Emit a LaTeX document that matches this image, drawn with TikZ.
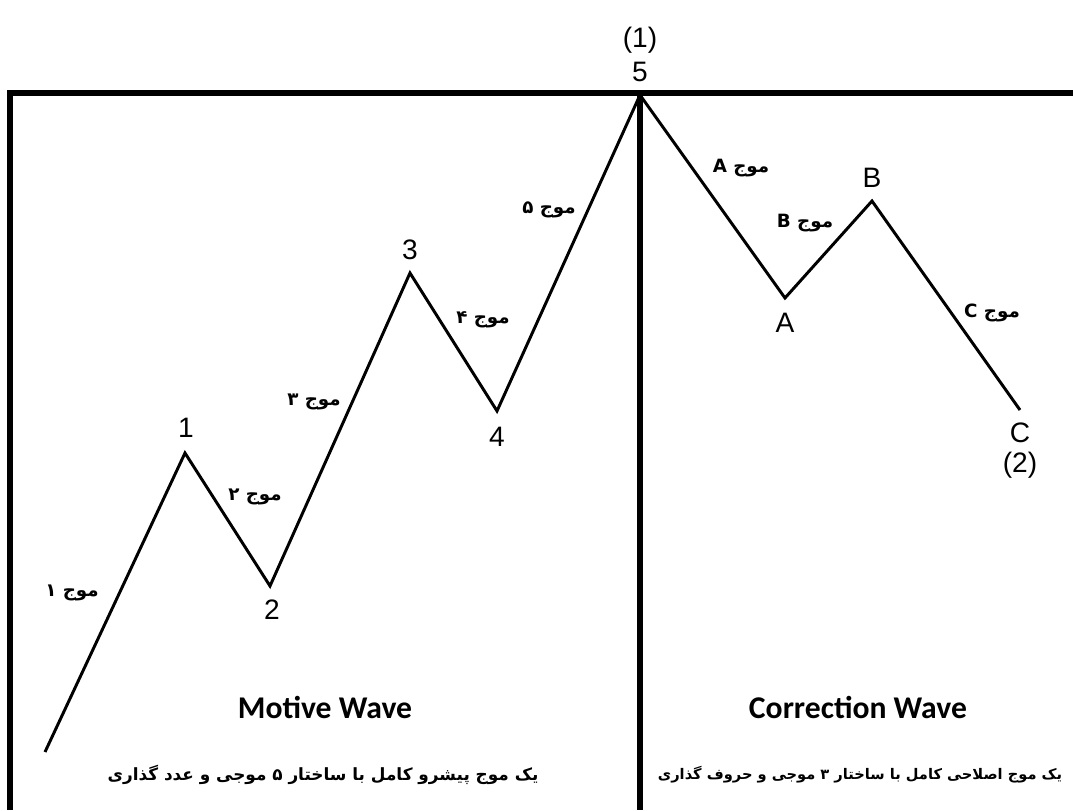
\documentclass[tikz,border=0pt]{standalone}
\usepackage{fontspec}
\setmainfont{Liberation Sans}
\newfontfamily\titlefont{Carlito}
\newfontfamily\persianfont[Script=Arabic]{DejaVu Sans}
\TeXXeTstate=1
\usetikzlibrary{positioning}
\tikzset{
    % Lines
    wave line/.style={
        line width=2.1pt,
        black,
        line join=miter
    },
    frame line/.style={
        line width=3.6pt,
        black
    },
    % Texts
    point label/.style={
        inner sep=0pt,
        font=\fontsize{20}{22}\selectfont
    },
    wave label/.style={
        inner sep=0pt,
        font=\persianfont\bfseries\fontsize{13}{15}\selectfont
    },
    title label/.style={
        inner sep=0pt,
        font=\titlefont\bfseries\fontsize{22.5}{24}\selectfont
    },
    caption label/.style={
        inner sep=0pt,
        font=\persianfont\bfseries\fontsize{12}{14}\selectfont
    }
}

\begin{document}
\begin{tikzpicture}[x=0.025cm, y=-0.025cm]
        \useasboundingbox (0,0) rectangle (1073,810);

        % Frame
        \coordinate (fbl) at (10,810);
        \coordinate (ftl) at (10,93);
        \coordinate (ftr) at (1073,93);
        \coordinate (fmt) at (640,93);
        \coordinate (fmb) at (640,810);
        \draw[frame line] (fbl) -- (ftl) -- (ftr);
        \draw[frame line] (fmt) -- (fmb);

        % Wave points
        \coordinate (p0) at (45,752);
        \coordinate (p1) at (185,453);
        \coordinate (p2) at (270,586);
        \coordinate (p3) at (410,273);
        \coordinate (p4) at (497,411);
        \coordinate (p5) at (640,95);
        \coordinate (pA) at (785,298);
        \coordinate (pB) at (872,201);
        \coordinate (pC) at (1020,410);

        % Wave
        \draw[wave line] (p0) -- (p1) -- (p2) -- (p3) -- (p4) -- (p5)
            -- (pA) -- (pB) -- (pC);

        % Point labels
        \node[point label] (l1) at (186,428) {1};
        \node[point label] (l2) at (272,610) {2};
        \node[point label] (l3) at (410,250) {3};
        \node[point label] (l4) at (497,437) {4};
        \node[point label] (l5) at (640,72) {5};
        \node[point label] (l5b) at (640,40) {(1)};
        \node[point label] (lA) at (785,323) {A};
        \node[point label] (lB) at (872,178) {B};
        \node[point label] (lC) at (1020,433) {C};
        \node[point label] (lCb) at (1020,465) {(2)};

        % Wave labels
        \node[wave label] (w1) at (72,593) {\beginR موج ۱\endR};
        \node[wave label] (w2) at (255,497) {\beginR موج ۲\endR};
        \node[wave label] (w3) at (314,402) {\beginR موج ۳\endR};
        \node[wave label] (w4) at (483,320) {\beginR موج ۴\endR};
        \node[wave label] (w5) at (549,210) {\beginR موج ۵\endR};
        \node[wave label] (wA) at (741,168) {\beginR موج A\endR};
        \node[wave label] (wB) at (805,223) {\beginR موج B\endR};
        \node[wave label] (wC) at (992,313) {\beginR موج C\endR};

        % Titles
        \node[title label] (motive) at (325,707) {Motive Wave};
        \node[title label] (correction) at (858,707) {Correction Wave};
        \node[caption label] (cmotive) at (323,775)
            {\beginR یک موج پیشرو کامل با ساختار ۵ موجی و عدد گذاری\endR};
        \node[caption label, font=\persianfont\bfseries\fontsize{10.4}{13}\selectfont]
            (ccorrection) at (860,775)
            {\beginR یک موج اصلاحی کامل با ساختار ۳ موجی و حروف گذاری\endR};
    \end{tikzpicture}
\end{document}
